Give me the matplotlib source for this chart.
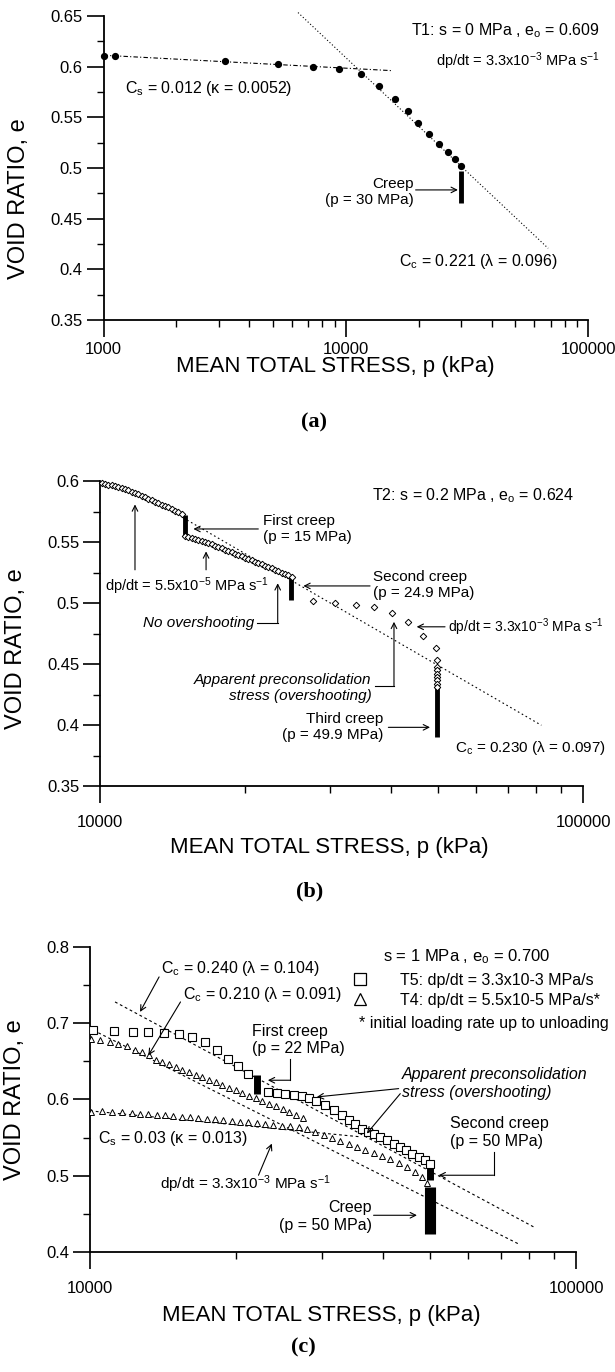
# void ratio vs mean total stress, three tests (a) T1, (b) T2, (c) T4/T5

import matplotlib.pyplot as plt
from matplotlib.ticker import NullFormatter

plt.rcParams['font.family'] = ['Liberation Sans', 'DejaVu Sans']
plt.rcParams['mathtext.fontset'] = 'custom'
plt.rcParams['mathtext.rm'] = 'Liberation Sans'
plt.rcParams['mathtext.it'] = 'Liberation Sans:italic'
plt.rcParams['mathtext.bf'] = 'Liberation Sans:bold'

# ---------------- data (p in kPa, e = void ratio) ----------------
# (a) T1
p_t1 = [1000, 1120, 3180, 5250, 7330, 9400, 11600, 13750, 15900, 18000,
        19950, 22050, 24250, 26450, 28350, 30000]
e_t1 = [0.6105, 0.6105, 0.6059, 0.6023, 0.6000, 0.5974, 0.5928, 0.5809, 0.5681, 0.5562,
        0.5447, 0.5336, 0.5237, 0.5161, 0.5086, 0.5016]
creep_t1_p = [30000]
creep_t1_top = [0.4965]
creep_t1_bot = [0.4650]
cs_a_p = [1000, 15500]
cs_a_e = [0.6112, 0.5960]
cc_a_p = [6350, 68400]
cc_a_e = [0.6533, 0.4207]

# (b) T2
p_t2_load1 = [10080, 10241, 10405, 10572, 10741, 10913, 11088, 11265, 11446, 11629,
              11816, 12005, 12198, 12393, 12592, 12794, 12999, 13207, 13419, 13634,
              13852, 14075, 14300, 14529, 14762]
e_t2_load1 = [0.5981, 0.5975, 0.5970, 0.5964, 0.5959, 0.5951, 0.5942, 0.5931, 0.5923, 0.5912,
              0.5901, 0.5893, 0.5879, 0.5868, 0.5854, 0.5843, 0.5830, 0.5819, 0.5805, 0.5794,
              0.5783, 0.5772, 0.5758, 0.5745, 0.5728]
p_t2_load2 = [14999, 15239, 15483, 15731, 15983, 16240, 16500, 16765, 17033, 17307,
              17584, 17866, 18152, 18443, 18739, 19039, 19344, 19654, 19969, 20289,
              20614, 20945, 21280, 21621, 21968, 22320, 22677, 23041, 23410, 23785,
              24166, 24554, 24947]
e_t2_load2 = [0.5552, 0.5538, 0.5530, 0.5522, 0.5514, 0.5505, 0.5497, 0.5489, 0.5481, 0.5470,
              0.5459, 0.5448, 0.5437, 0.5426, 0.5415, 0.5404, 0.5393, 0.5382, 0.5371, 0.5360,
              0.5349, 0.5338, 0.5327, 0.5316, 0.5305, 0.5294, 0.5283, 0.5272, 0.5261, 0.5250,
              0.5239, 0.5228, 0.5217]
p_t2_fast = [27650, 30660, 33830, 36980, 40170, 43500, 46700, 49550,
             49900, 49900, 49900, 49900, 49900, 49900, 49900, 49900]
e_t2_fast = [0.5019, 0.5003, 0.4984, 0.4970, 0.4920, 0.4846, 0.4731, 0.4632,
             0.4530, 0.4475, 0.4448, 0.4420, 0.4393, 0.4365, 0.4338, 0.4310]
creep_t2_p = [15000, 24900, 49900]
creep_t2_top = [0.5725, 0.5217, 0.4310]
creep_t2_bot = [0.5560, 0.5025, 0.3898]
cc_b_p = [14875, 81990]
cc_b_e = [0.5698, 0.3998]

# (c) T5 (squares) and T4 (triangles)
p_t5_load1 = [10150, 11213, 12271, 13176, 14214, 15262, 16179, 17237, 18217, 19192, 20188, 21168]
e_t5_load1 = [0.6916, 0.6899, 0.6886, 0.6886, 0.6877, 0.6864, 0.6820, 0.6754, 0.6645, 0.6536,
              0.6435, 0.6339]
p_t5_load2 = [23200, 24213, 25194, 26210, 27267, 28231, 29137, 30357, 31683, 32956,
              34019, 35113, 36239, 37279, 38296, 39528, 40798, 42114, 43470, 44655,
              45918, 47396, 48765, 50092]
e_t5_load2 = [0.6099, 0.6085, 0.6068, 0.6055, 0.6041, 0.6024, 0.5976, 0.5924, 0.5867, 0.5793,
              0.5727, 0.5683, 0.5617, 0.5574, 0.5552, 0.5508, 0.5465, 0.5412, 0.5377, 0.5333,
              0.5290, 0.5246, 0.5202, 0.5149]
creep_t5_p = [22000, 50000]
creep_t5_top = [0.6317, 0.5136]
creep_t5_bot = [0.6068, 0.4939]

p_t4_load = [10050, 10476, 10984, 11427, 11888, 12368, 12806, 13218, 13642, 14080,
             14532, 14999, 15481, 15975, 16486, 17021, 17567, 18131, 18713, 19313,
             19934, 20574, 21235, 21916, 22620, 23348, 24098, 24878, 25677, 26502, 27353]
e_t4_load = [0.6798, 0.6776, 0.6754, 0.6733, 0.6698, 0.6654, 0.6623, 0.6579, 0.6522, 0.6492,
             0.6461, 0.6426, 0.6391, 0.6356, 0.6326, 0.6295, 0.6260, 0.6225, 0.6190, 0.6155,
             0.6120, 0.6085, 0.6050, 0.6015, 0.5980, 0.5946, 0.5911, 0.5876, 0.5841, 0.5797, 0.5753]
p_t4_reload = [10050, 10559, 11071, 11609, 12174, 12665, 13176, 13707, 14259, 14834,
               15432, 16051, 16701, 17374, 18074, 18802, 19559, 20348, 21168, 22020,
               22909, 23833, 24800, 25799, 26838,
               27921, 29045, 30213, 31433, 32697, 34019, 35392, 36818, 38296, 39843,
               41450, 43126, 44867, 46650, 48151, 49307]
e_t4_reload = [0.5837, 0.5845, 0.5837, 0.5832, 0.5828, 0.5815, 0.5806, 0.5797, 0.5793, 0.5784,
               0.5775, 0.5766, 0.5758, 0.5749, 0.5740, 0.5731, 0.5723, 0.5710, 0.5701, 0.5688,
               0.5679, 0.5666, 0.5657, 0.5648, 0.5639,
               0.5617, 0.5574, 0.5530, 0.5495, 0.5456, 0.5412, 0.5377, 0.5342, 0.5298, 0.5259,
               0.5215, 0.5171, 0.5114, 0.5049, 0.4983, 0.4904]
creep_t4_p = [50000]
creep_t4_top = [0.4852]
creep_t4_bot = [0.4240]

cc1_c_p = [11248, 81800]
cc1_c_e = [0.7279, 0.4328]
cc2_c_p = [10150, 75930]
cc2_c_e = [0.6907, 0.4109]
cs_c_p = [10000, 36000]
cs_c_e = [0.5850, 0.5510]

# ticks
xt_a = [1000, 10000, 100000]
xt_a_lab = ['1000', '10000', '100000']
xt_bc = [10000, 100000]
xt_bc_lab = ['10000', '100000']
yt_ab = [0.35, 0.4, 0.45, 0.5, 0.55, 0.6, 0.65]
yt_ab_lab = ['0.35', '0.4', '0.45', '0.5', '0.55', '0.6', '0.65']
yt_ab_minor = [0.375, 0.425, 0.475, 0.525, 0.575, 0.625]
yt_c = [0.4, 0.5, 0.6, 0.7, 0.8]
yt_c_lab = ['0.4', '0.5', '0.6', '0.7', '0.8']
yt_c_minor = [0.45, 0.55, 0.65, 0.75]

FS = 11
LW = 0.8

fig = plt.figure(figsize=(6.15, 13.72), dpi=100)
ax_a = fig.add_axes([0.1683, 0.7668, 0.788, 0.2216])
ax_b = fig.add_axes([0.1626, 0.4271, 0.7854, 0.2223])
ax_c = fig.add_axes([0.1467, 0.0875, 0.790, 0.2223])


def style(ax, xt, xlab, yt, ylab, ymin, xlim, ylim, xpad):
    ax.set_xscale('log')
    ax.set_xlim(xlim)
    ax.set_ylim(ylim)
    ax.spines['right'].set_visible(False)
    ax.spines['top'].set_visible(False)
    ax.spines['left'].set_linewidth(1.3)
    ax.spines['bottom'].set_linewidth(1.3)
    ax.set_xticks(xt, xlab)
    ax.xaxis.set_minor_formatter(NullFormatter())
    ax.set_yticks(yt, ylab)
    ax.set_yticks(ymin, minor=True)
    ax.tick_params(which='major', length=12, width=1.2, labelsize=12)
    ax.tick_params(axis='x', which='major', pad=xpad)
    ax.tick_params(axis='y', which='major', pad=3)
    ax.tick_params(which='minor', length=5, width=1.0)
    ax.set_xlabel('MEAN TOTAL STRESS, p (kPa)', fontsize=16)
    ax.set_ylabel('VOID RATIO, e', fontsize=17)
    ax.xaxis.label.set_va('center')
    ax.yaxis.label.set_va('center')


def arrow(ax, start, end):
    ax.annotate('', xy=end, xytext=start, annotation_clip=False,
                arrowprops=dict(arrowstyle='->', lw=LW, color='k',
                                shrinkA=0, shrinkB=0, mutation_scale=10))


def elbow(ax, pts):
    xs = [q[0] for q in pts[:-1]]
    ys = [q[1] for q in pts[:-1]]
    ax.plot(xs, ys, color='k', lw=LW, clip_on=False)
    arrow(ax, pts[-2], pts[-1])


# ---------------- (a) ----------------
ax = ax_a
style(ax, xt_a, xt_a_lab, yt_ab, yt_ab_lab, yt_ab_minor, (1000, 100000), (0.35, 0.65), 4)
ax.plot(cs_a_p, cs_a_e, color='k', lw=LW, ls=(0, (4, 2, 1, 2)))
ax.plot(cc_a_p, cc_a_e, color='k', lw=LW, ls=(0, (1, 2)), clip_on=False)
ax.vlines(creep_t1_p, creep_t1_bot, creep_t1_top, color='k', lw=3.5)
ax.plot(p_t1, e_t1, 'o', color='k', ms=4.2, clip_on=False, zorder=3)
ax.text(112000, 0.6352, r'T1: s = 0 MPa , e$_\mathrm{o}$ = 0.609', fontsize=FS + 0.5,
        ha='right', va='center')
ax.text(112000, 0.6050, r'dp/dt = 3.3x10$^{-3}$ MPa s$^{-1}$', fontsize=FS - 0.5,
        ha='right', va='center')
ax.text(1230, 0.5787, r'C$_\mathrm{s}$ = 0.012 (\u03ba = 0.0052)'.replace('\\u03ba', '\u03ba'),
        fontsize=FS + 0.5, ha='left', va='center')
ax.text(19060, 0.4766, 'Creep\n(p = 30 MPa)', fontsize=FS, ha='right', va='center',
        multialignment='right')
arrow(ax, (19410, 0.4783), (29000, 0.4783))
ax.text(16600, 0.4076, r'C$_\mathrm{c}$ = 0.221 (' + '\u03bb' + ' = 0.096)', fontsize=FS + 0.5,
        ha='left', va='center')
ax.yaxis.set_label_coords(-0.175, 0.40)
ax.xaxis.set_label_coords(0.478, -0.152)

# ---------------- (b) ----------------
ax = ax_b
style(ax, xt_bc, xt_bc_lab, yt_ab[:-1], yt_ab_lab[:-1], yt_ab_minor[:-1], (10000, 100000), (0.35, 0.6), 9)
ax.plot(cc_b_p, cc_b_e, color='k', lw=LW, ls=(0, (1.5, 2.5)))
ax.vlines(creep_t2_p, creep_t2_bot, creep_t2_top, color='k', lw=3.5)
dkw = dict(ls='none', marker='D', ms=3.3, mfc='white', mec='k', mew=0.7, clip_on=False, zorder=3)
ax.plot(p_t2_load1, e_t2_load1, **dkw)
ax.plot(p_t2_load2, e_t2_load2, **dkw)
ax.plot(p_t2_fast, e_t2_fast, **dkw)
ax.text(36500, 0.5880, r'T2: s = 0.2 MPa , e$_\mathrm{o}$ = 0.624', fontsize=FS + 0.5,
        ha='left', va='center')
ax.text(21790, 0.5608, 'First creep\n(p = 15 MPa)', fontsize=FS, ha='left', va='center')
arrow(ax, (21270, 0.5607), (15610, 0.5607))
ax.text(10241, 0.5135, r'dp/dt = 5.5x10$^{-5}$ MPa s$^{-1}$', fontsize=FS - 0.5,
        ha='left', va='center')
arrow(ax, (11815, 0.5272), (11815, 0.5808))
arrow(ax, (16580, 0.5272), (16580, 0.5423))
ax.text(12290, 0.4838, 'No overshooting', fontsize=FS, ha='left', va='center', style='italic')
elbow(ax, [(21100, 0.4838), (23330, 0.4838), (23330, 0.5162)])
ax.text(36800, 0.5145, 'Second creep\n(p = 24.9 MPa)', fontsize=FS, ha='left', va='center')
arrow(ax, (36230, 0.5140), (26370, 0.5140))
ax.text(52620, 0.4805, r'dp/dt = 3.3x10$^{-3}$ MPa s$^{-1}$', fontsize=FS - 1,
        ha='left', va='center')
arrow(ax, (51800, 0.4805), (45250, 0.4805))
ax.text(36510, 0.4303, 'Apparent preconsolidation\nstress (overshooting)', fontsize=FS,
        ha='right', va='center', style='italic', multialignment='right')
elbow(ax, [(37100, 0.4316), (40610, 0.4316), (40610, 0.4846)])
ax.text(38600, 0.3985, 'Third creep\n(p = 49.9 MPa)', fontsize=FS, ha='right', va='center',
        multialignment='right')
arrow(ax, (39540, 0.3981), (48220, 0.3981))
ax.text(54330, 0.3810, r'C$_\mathrm{c}$ = 0.230 (' + '\u03bb' + ' = 0.097)', fontsize=FS,
        ha='left', va='center')
ax.yaxis.set_label_coords(-0.173, 0.45)
ax.xaxis.set_label_coords(0.474, -0.20)

# ---------------- (c) ----------------
ax = ax_c
style(ax, xt_bc, xt_bc_lab, yt_c, yt_c_lab, yt_c_minor, (10000, 100000), (0.4, 0.8), 9)
ax.plot(cc1_c_p, cc1_c_e, color='k', lw=LW, ls=(0, (2.5, 2.5)))
ax.plot(cc2_c_p, cc2_c_e, color='k', lw=LW, ls=(0, (2.5, 2.5)))
ax.plot(cs_c_p, cs_c_e, color='k', lw=LW, ls=(0, (2.5, 2.5)))
ax.vlines(creep_t5_p, creep_t5_bot, creep_t5_top, color='k', lw=5)
ax.vlines(creep_t4_p, creep_t4_bot, creep_t4_top, color='k', lw=8)
skw = dict(ls='none', marker='s', ms=5.2, mfc='white', mec='k', mew=0.8, zorder=3)
tkw = dict(ls='none', marker='^', ms=4.8, mfc='white', mec='k', mew=0.7, zorder=3)
ax.plot(p_t5_load1, e_t5_load1, **skw)
ax.plot(p_t5_load2, e_t5_load2, **skw)
ax.plot(p_t4_load, e_t4_load, **tkw)
ax.plot(p_t4_reload, e_t4_reload, **tkw)

ax.text(39980, 0.7878, r's = 1 MPa , e$_\mathrm{o}$ = 0.700', fontsize=FS + 1, ha='left', va='center')
hs, = ax.plot([], [], ls='none', marker='s', ms=8, mfc='white', mec='k', mew=0.9)
ht, = ax.plot([], [], ls='none', marker='^', ms=8, mfc='white', mec='k', mew=0.9)
ax.legend([hs, ht], ['T5: dp/dt = 3.3x10-3 MPa/s', 'T4: dp/dt = 5.5x10-5 MPa/s*'],
          loc='center left', bbox_to_anchor=(0.535, 0.858), frameon=False, fontsize=FS + 0.5,
          handlelength=1.2, handletextpad=1.9, borderpad=0, borderaxespad=0,
          labelspacing=0.3, numpoints=1)
ax.text(35670, 0.6990, '* initial loading rate up to unloading', fontsize=FS + 0.5,
        ha='left', va='center')

ax.text(13980, 0.7716, r'C$_\mathrm{c}$ = 0.240 (' + '\u03bb' + ' = 0.104)', fontsize=FS + 0.5,
        ha='left', va='center')
arrow(ax, (13860, 0.7607), (12664, 0.7148))
ax.text(15550, 0.7375, r'C$_\mathrm{c}$ = 0.210 (' + '\u03bb' + ' = 0.091)', fontsize=FS + 0.5,
        ha='left', va='center')
arrow(ax, (15340, 0.7279), (13176, 0.6579))
ax.text(21510, 0.6781, 'First creep\n(p = 22 MPa)', fontsize=FS + 0.5, ha='left', va='center')
elbow(ax, [(25790, 0.6536), (25790, 0.6252), (23210, 0.6252)])
ax.text(43800, 0.6208, 'Apparent preconsolidation\nstress (overshooting)', fontsize=FS + 0.5,
        ha='left', va='center', style='italic')
arrow(ax, (43130, 0.6142), (29270, 0.6033))
arrow(ax, (43470, 0.6076), (37100, 0.5553))
ax.text(55090, 0.5568, 'Second creep\n(p = 50 MPa)', fontsize=FS + 0.5, ha='left', va='center')
elbow(ax, [(67660, 0.5311), (67660, 0.5006), (52130, 0.5006)])
ax.text(10390, 0.5487, r'C$_\mathrm{s}$ = 0.03 (' + '\u03ba' + ' = 0.013)', fontsize=FS + 0.5,
        ha='left', va='center')
ax.text(13920, 0.4888, r'dp/dt = 3.3x10$^{-3}$ MPa s$^{-1}$', fontsize=FS, ha='left', va='center')
arrow(ax, (22200, 0.5006), (23650, 0.5421))
ax.text(37990, 0.4466, 'Creep\n(p = 50 MPa)', fontsize=FS + 0.5, ha='right', va='center',
        multialignment='right')
arrow(ax, (38300, 0.4481), (47040, 0.4481))
ax.yaxis.set_label_coords(-0.155, 0.50)
ax.xaxis.set_label_coords(0.475, -0.207)

# panel captions
for lab, x, y in [('(a)', 0.511, 0.692), ('(b)', 0.504, 0.350), ('(c)', 0.494, 0.018)]:
    fig.text(x, y, lab, fontsize=16, fontweight='bold', family='Liberation Serif',
             ha='center', va='center')

fig.savefig('out.png', dpi=100, facecolor='white')
